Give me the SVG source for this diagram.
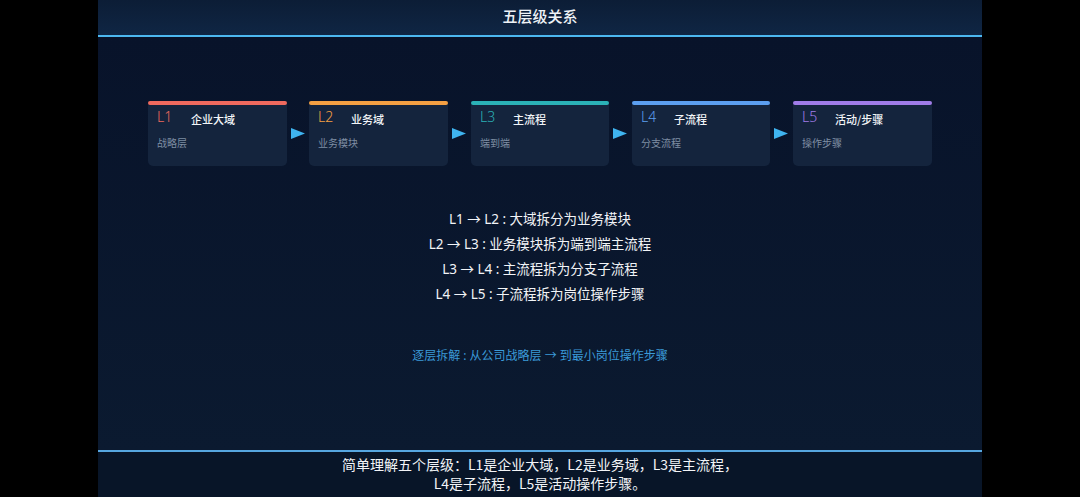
<svg xmlns="http://www.w3.org/2000/svg" width="1080" height="497" viewBox="0 0 1080 497">
<defs>
<linearGradient id="hdr" x1="0" y1="0" x2="0" y2="1">
<stop offset="0" stop-color="#0c1d36"/>
<stop offset="1" stop-color="#0f2644"/>
</linearGradient>
<linearGradient id="body" x1="0" y1="0" x2="0" y2="1">
<stop offset="0" stop-color="#08132a"/>
<stop offset="1" stop-color="#0b1a30"/>
</linearGradient>
<style>
.card{fill:#14243d}
.lv{font-family:"Noto Sans","Noto Sans CJK SC",sans-serif;font-size:14px;font-weight:300}
.tt{font-family:"Noto Sans CJK SC",sans-serif;font-size:11px;font-weight:500;fill:#f2f5f8}
.st{font-family:"Noto Sans CJK SC",sans-serif;font-size:10px;fill:#7f8ea3}
.mid{font-family:"Noto Sans","Noto Sans CJK SC",sans-serif;font-size:13.5px;fill:#f2f4f7;text-anchor:middle}
.arr{fill:#3fb4f0}
</style>
</defs>
<rect width="1080" height="497" fill="#000"/>
<rect x="98" y="0" width="884" height="36" fill="url(#hdr)"/>
<rect x="98" y="36" width="884" height="415" fill="url(#body)"/>
<rect x="98" y="451" width="884" height="46" fill="#081528"/>
<rect x="98" y="35" width="884" height="2" fill="#4cb8f0"/>
<rect x="98" y="450" width="884" height="2" fill="#56a6e0"/>
<text x="540" y="22" text-anchor="middle" font-family="Noto Sans CJK SC,sans-serif" font-size="15px" font-weight="500" fill="#eef2f6">五层级关系</text>

<g id="L1">
<rect class="card" x="148" y="101" width="139" height="65" rx="5"/>
<rect x="148" y="101" width="139" height="4" rx="2" fill="#ef6a5e"/>
<text class="lv" x="157" y="122" fill="#ef6a5e">L1</text>
<text class="tt" x="191" y="124">企业大域</text>
<text class="st" x="157" y="147">战略层</text>
</g>
<g id="L2">
<rect class="card" x="309" y="101" width="139" height="65" rx="5"/>
<rect x="309" y="101" width="139" height="4" rx="2" fill="#f4a043"/>
<text class="lv" x="318" y="122" fill="#f4a043">L2</text>
<text class="tt" x="351" y="124">业务域</text>
<text class="st" x="318" y="147">业务模块</text>
</g>
<g id="L3">
<rect class="card" x="471" y="101" width="138" height="65" rx="5"/>
<rect x="471" y="101" width="138" height="4" rx="2" fill="#2bb1b6"/>
<text class="lv" x="480" y="122" fill="#2bb1b6">L3</text>
<text class="tt" x="513" y="124">主流程</text>
<text class="st" x="480" y="147">端到端</text>
</g>
<g id="L4">
<rect class="card" x="632" y="101" width="138" height="65" rx="5"/>
<rect x="632" y="101" width="138" height="4" rx="2" fill="#5c9ff0"/>
<text class="lv" x="641" y="122" fill="#5c9ff0">L4</text>
<text class="tt" x="674" y="124">子流程</text>
<text class="st" x="641" y="147">分支流程</text>
</g>
<g id="L5">
<rect class="card" x="793" y="101" width="139" height="65" rx="5"/>
<rect x="793" y="101" width="139" height="4" rx="2" fill="#a07ce8"/>
<text class="lv" x="802" y="122" fill="#a07ce8">L5</text>
<text class="tt" x="835" y="124">活动/步骤</text>
<text class="st" x="802" y="147">操作步骤</text>
</g>

<g id="connectors">
<polygon class="arr" points="291,128 305,133.5 291,139"/>
<polygon class="arr" points="452,128 466,133.5 452,139"/>
<polygon class="arr" points="613,128 627,133.5 613,139"/>
<polygon class="arr" points="774,128 788,133.5 774,139"/>
</g>

<g id="notes">
<text class="mid" x="540" y="224">L1 → L2 : 大域拆分为业务模块</text>
<text class="mid" x="540" y="249">L2 → L3 : 业务模块拆为端到端主流程</text>
<text class="mid" x="540" y="274">L3 → L4 : 主流程拆为分支子流程</text>
<text class="mid" x="540" y="299">L4 → L5 : 子流程拆为岗位操作步骤</text>
<text x="540" y="360" text-anchor="middle" font-family="Noto Sans,Noto Sans CJK SC,sans-serif" font-size="12px" fill="#3b9ad8">逐层拆解 : 从公司战略层 → 到最小岗位操作步骤</text>
</g>

<g id="footer">
<text x="540" y="470" text-anchor="middle" font-family="Noto Sans CJK SC,sans-serif" font-size="14px" fill="#f2f4f7">简单理解五个层级：L1是企业大域，L2是业务域，L3是主流程，</text>
<text x="540" y="489" text-anchor="middle" font-family="Noto Sans CJK SC,sans-serif" font-size="14px" fill="#f2f4f7">L4是子流程，L5是活动操作步骤。</text>
</g>
</svg>
